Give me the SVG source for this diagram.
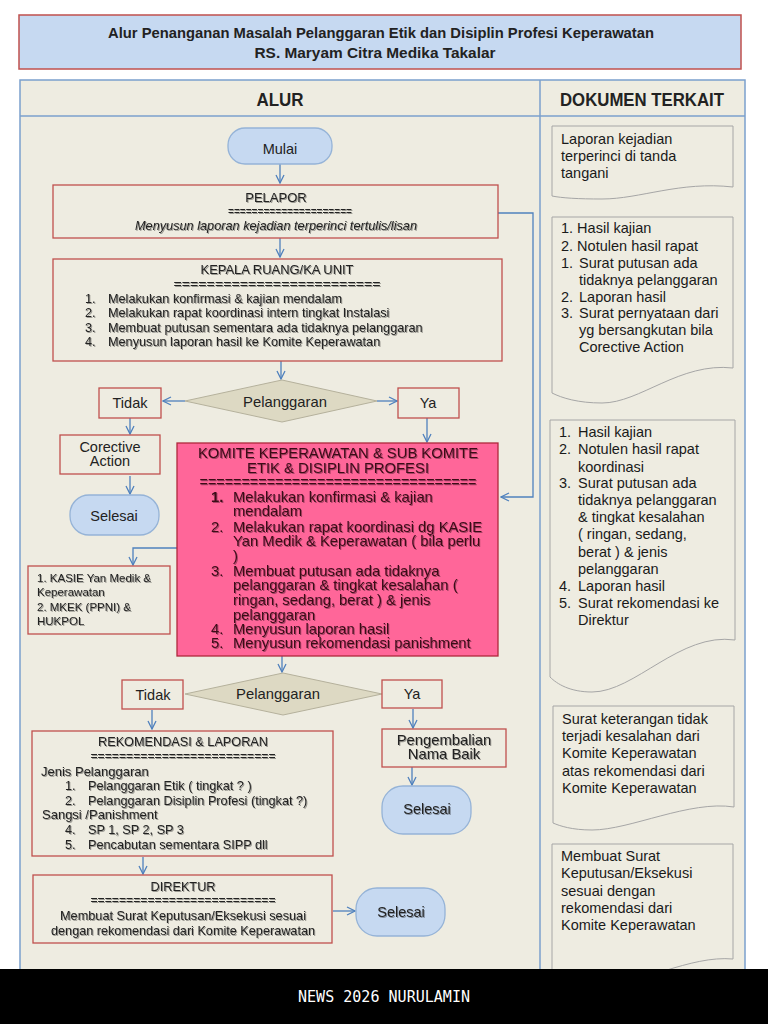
<svg xmlns="http://www.w3.org/2000/svg" width="768" height="1024" viewBox="0 0 768 1024">
<style>
text{font-family:"Liberation Sans",Arial,sans-serif;fill:#222}
.box{fill:#eeece1;stroke:#c0504d;stroke-width:1.3}
.term{fill:#c6d9f1;stroke:#95b3d7;stroke-width:1.3}
.dia{fill:#ddd9c3;stroke:#b5b19c;stroke-width:1}
.doc{fill:#eeece1;stroke:#a6a6a6;stroke-width:1}
.con{fill:none;stroke:#4f81bd;stroke-width:1.3}
.c{text-anchor:middle}
.f13{font-size:13px}
.f127{font-size:12.7px}
.f145{font-size:14.5px}
.f148{font-size:14.8px}
.d{font-size:14.5px;fill:#1a1a1a}
.sh{filter:url(#sh)}
.km{fill:#3a0a18}
</style>
<defs>
<marker id="arr" viewBox="0 0 10 10" refX="9" refY="5" markerWidth="10" markerHeight="10" markerUnits="userSpaceOnUse" orient="auto">
<path d="M1,1 L9,5 L1,9" fill="none" stroke="#4f81bd" stroke-width="1.3"/>
</marker>
<filter id="sh" x="-5%" y="-20%" width="110%" height="140%">
<feDropShadow dx="1" dy="1" stdDeviation="0.6" flood-color="#000" flood-opacity="0.35"/>
</filter>
</defs>
<rect width="768" height="1024" fill="#ffffff"/>

<g id="title">
<rect x="19" y="15" width="722" height="54" fill="#c6d9f1" stroke="#c0504d" stroke-width="1.5"/>
<text x="381" y="38" class="c" font-size="14.5" font-weight="bold" textLength="546" lengthAdjust="spacingAndGlyphs">Alur Penanganan Masalah Pelanggaran Etik dan Disiplin Profesi Keperawatan</text>
<text x="375" y="58" class="c" font-size="14.5" font-weight="bold" textLength="241" lengthAdjust="spacingAndGlyphs">RS. Maryam  Citra Medika Takalar</text>
</g>

<g id="table">
<rect x="20" y="80" width="725" height="900" fill="#eeece1" stroke="#7ba0cd" stroke-width="1.5"/>
<line x1="20" y1="116" x2="745" y2="116" stroke="#7ba0cd" stroke-width="1.5"/>
<line x1="540" y1="80" x2="540" y2="980" stroke="#7ba0cd" stroke-width="1.5"/>
<text x="280" y="106" class="c" font-size="18" font-weight="bold" textLength="47" lengthAdjust="spacingAndGlyphs">ALUR</text>
<text x="642" y="106" class="c" font-size="18" font-weight="bold" textLength="164" lengthAdjust="spacingAndGlyphs">DOKUMEN TERKAIT</text>
</g>

<g id="connectors">
<line class="con" x1="280" y1="164" x2="280" y2="183" marker-end="url(#arr)"/>
<line class="con" x1="280" y1="238" x2="280" y2="257" marker-end="url(#arr)"/>
<polyline class="con" points="498,213 533,213 533,497 501,497" marker-end="url(#arr)"/>
<line class="con" x1="281" y1="361" x2="281" y2="379" marker-end="url(#arr)"/>
<line class="con" x1="185" y1="401" x2="163" y2="401" marker-end="url(#arr)"/>
<line class="con" x1="377" y1="401" x2="397" y2="401" marker-end="url(#arr)"/>
<line class="con" x1="130" y1="418" x2="130" y2="434" marker-end="url(#arr)"/>
<line class="con" x1="130" y1="476" x2="130" y2="494" marker-end="url(#arr)"/>
<line class="con" x1="427" y1="418" x2="427" y2="442" marker-end="url(#arr)"/>
<polyline class="con" points="177,548 133,548 133,565" marker-end="url(#arr)"/>
<line class="con" x1="282" y1="656" x2="282" y2="672" marker-end="url(#arr)"/>
<line class="con" x1="152" y1="710" x2="152" y2="729" marker-end="url(#arr)"/>
<line class="con" x1="413" y1="709" x2="413" y2="728" marker-end="url(#arr)"/>
<line class="con" x1="412" y1="767" x2="412" y2="785" marker-end="url(#arr)"/>
<line class="con" x1="143" y1="857" x2="143" y2="874" marker-end="url(#arr)"/>
<line class="con" x1="333" y1="911" x2="355" y2="911" marker-end="url(#arr)"/>
</g>

<g id="mulai">
<rect class="term" x="228" y="128" width="104" height="36" rx="17"/>
<text x="280" y="154" class="c f145">Mulai</text>
</g>

<g id="pelapor">
<rect class="box" x="53" y="185" width="445" height="53"/>
<g class="sh">
<text x="276" y="202" class="c f13">PELAPOR</text>
<text x="290" y="215" class="c f13" textLength="124" lengthAdjust="spacingAndGlyphs">=====================</text>
<text x="276" y="230" class="c f13" font-style="italic" textLength="282" lengthAdjust="spacingAndGlyphs">Menyusun laporan kejadian terperinci tertulis/lisan</text>
</g>
</g>

<g id="kepala">
<rect class="box" x="53" y="259" width="449" height="102"/>
<g class="sh">
<text x="277" y="274" class="c f13" textLength="153" lengthAdjust="spacingAndGlyphs">KEPALA RUANG/KA  UNIT</text>
<text x="277" y="288" class="c f13" textLength="207" lengthAdjust="spacingAndGlyphs">=========================</text>
<text x="85" y="303" class="f127">1.</text><text x="108" y="303" class="f127">Melakukan konfirmasi &amp; kajian mendalam</text>
<text x="85" y="317" class="f127">2.</text><text x="108" y="317" class="f127">Melakukan rapat koordinasi intern tingkat Instalasi</text>
<text x="85" y="332" class="f127">3.</text><text x="108" y="332" class="f127">Membuat putusan sementara ada tidaknya pelanggaran</text>
<text x="85" y="346" class="f127">4.</text><text x="108" y="346" class="f127">Menyusun laporan hasil ke Komite Keperawatan</text>
</g>
</g>

<g id="diamond1">
<polygon class="dia" points="185,401 282,380 377,401 282,422"/>
<text x="285" y="407" class="c f148">Pelanggaran</text>
</g>

<g id="tidak1">
<rect class="box" x="99" y="388" width="62" height="30"/>
<text x="130" y="408" class="c f145">Tidak</text>
</g>

<g id="ya1">
<rect class="box" x="398" y="388" width="61" height="30"/>
<text x="428" y="408" class="c f145">Ya</text>
</g>

<g id="corective">
<rect class="box" x="60" y="435" width="100" height="39"/>
<text x="110" y="452" class="c f145">Corective</text>
<text x="110" y="466" class="c f145">Action</text>
</g>

<g id="selesai1">
<rect class="term" x="70" y="495" width="89" height="40" rx="19"/>
<text x="114" y="521" class="c f145">Selesai</text>
</g>

<g id="komite">
<rect x="177" y="443" width="321" height="213" fill="#ff6699" stroke="#b0283c" stroke-width="1.3"/>
<g class="sh">
<text x="338" y="458" class="c km" font-size="14.7" textLength="280" lengthAdjust="spacingAndGlyphs">KOMITE KEPERAWATAN &amp; SUB KOMITE</text>
<text x="338" y="473" class="c km" font-size="14.7" textLength="182" lengthAdjust="spacingAndGlyphs">ETIK &amp; DISIPLIN PROFESI</text>
<text x="338" y="487" class="c km" font-size="14.7" textLength="277" lengthAdjust="spacingAndGlyphs">=================================</text>
<text x="211" y="502" class="km f148" font-weight="bold">1.</text><text x="233" y="502" class="km f148">Melakukan konfirmasi &amp; kajian</text>
<text x="233" y="516" class="km f148">mendalam</text>
<text x="211" y="532" class="km f148">2.</text><text x="233" y="532" class="km f148">Melakukan rapat koordinasi dg KASIE</text>
<text x="233" y="546" class="km f148">Yan Medik &amp; Keperawatan ( bila perlu</text>
<text x="233" y="561" class="km f148">)</text>
<text x="211" y="576" class="km f148">3.</text><text x="233" y="576" class="km f148">Membuat putusan ada tidaknya</text>
<text x="233" y="590" class="km f148">pelanggaran &amp; tingkat kesalahan (</text>
<text x="233" y="605" class="km f148">ringan, sedang, berat ) &amp; jenis</text>
<text x="233" y="620" class="km f148">pelanggaran</text>
<text x="211" y="634" class="km f148">4.</text><text x="233" y="634" class="km f148">Menyusun laporan hasil</text>
<text x="211" y="648" class="km f148">5.</text><text x="233" y="648" class="km f148">Menyusun rekomendasi panishment</text>
</g>
</g>

<g id="kasie">
<rect class="box" x="28" y="566" width="142" height="68"/>
<g class="sh">
<text x="37" y="582" font-size="11.5">1. KASIE Yan Medik &amp;</text>
<text x="37" y="596" font-size="11.5">Keperawatan</text>
<text x="37" y="611" font-size="11.5">2. MKEK (PPNI) &amp;</text>
<text x="37" y="625" font-size="11.5">HUKPOL</text>
</g>
</g>

<g id="diamond2">
<polygon class="dia" points="185,694 283,673 382,694 283,715"/>
<text x="278" y="699" class="c f148">Pelanggaran</text>
</g>

<g id="tidak2">
<rect class="box" x="122" y="680" width="61" height="29"/>
<text x="153" y="700" class="c f145">Tidak</text>
</g>

<g id="ya2">
<rect class="box" x="382" y="680" width="60" height="28"/>
<text x="412" y="699" class="c f145">Ya</text>
</g>

<g id="rekomendasi">
<rect class="box" x="32" y="731" width="301" height="125"/>
<g class="sh">
<text x="183" y="746" class="c f13" textLength="170" lengthAdjust="spacingAndGlyphs">REKOMENDASI &amp; LAPORAN</text>
<text x="183" y="760" class="c f13" textLength="185" lengthAdjust="spacingAndGlyphs">==========================</text>
<text x="41" y="776" class="f13">Jenis Pelanggaran</text>
<text x="65" y="790" class="f127">1.</text><text x="88" y="790" class="f127">Pelanggaran Etik ( tingkat ? )</text>
<text x="65" y="805" class="f127">2.</text><text x="88" y="805" class="f127">Pelanggaran Disiplin Profesi (tingkat ?)</text>
<text x="42" y="819" class="f13">Sangsi /Panishment</text>
<text x="65" y="834" class="f127">4.</text><text x="88" y="834" class="f127">SP 1, SP 2, SP 3</text>
<text x="65" y="849" class="f127">5.</text><text x="88" y="849" class="f127">Pencabutan sementara SIPP dll</text>
</g>
</g>

<g id="direktur">
<rect class="box" x="33" y="875" width="299" height="68"/>
<g class="sh">
<text x="183" y="891" class="c f13" textLength="65" lengthAdjust="spacingAndGlyphs">DIREKTUR</text>
<text x="183" y="904" class="c f13" textLength="185" lengthAdjust="spacingAndGlyphs">==========================</text>
<text x="183" y="920" class="c f13" textLength="246" lengthAdjust="spacingAndGlyphs">Membuat Surat Keputusan/Eksekusi sesuai</text>
<text x="183" y="935" class="c f13" textLength="264" lengthAdjust="spacingAndGlyphs">dengan rekomendasi dari Komite Keperawatan</text>
</g>
</g>

<g id="selesai3">
<rect class="term" x="356" y="888" width="89" height="48" rx="21"/>
<text x="401" y="917" class="c f145 sh">Selesai</text>
</g>

<g id="pengembalian">
<rect class="box" x="382" y="729" width="124" height="38"/>
<g class="sh">
<text x="444" y="745" class="c f148">Pengembalian</text>
<text x="444" y="759" class="c f148">Nama Baik</text>
</g>
</g>

<g id="selesai2">
<rect class="term" x="382" y="786" width="89" height="48" rx="21"/>
<text x="427" y="814" class="c f145 sh">Selesai</text>
</g>

<g id="doc1">
<path class="doc" d="M552,126 H733 V187 C680,181 640,199 602,199 C578,199 562,198 552,196 Z"/>
<text x="561" y="144" class="d">Laporan kejadian</text>
<text x="561" y="161" class="d">terperinci di tanda</text>
<text x="561" y="178" class="d">tangani</text>
</g>

<g id="doc2">
<path class="doc" d="M552,217 H733 V368 C680,362 640,403 602,403 C578,403 562,398 552,393 Z"/>
<text x="561" y="233" class="d">1. Hasil kajian</text>
<text x="561" y="251" class="d">2. Notulen hasil rapat</text>
<text x="561" y="268" class="d">1.</text><text x="579" y="268" class="d">Surat putusan ada</text>
<text x="579" y="285" class="d">tidaknya pelanggaran</text>
<text x="561" y="302" class="d">2.</text><text x="579" y="302" class="d">Laporan hasil</text>
<text x="561" y="318" class="d">3.</text><text x="579" y="318" class="d">Surat pernyataan dari</text>
<text x="579" y="335" class="d">yg bersangkutan bila</text>
<text x="579" y="352" class="d">Corective Action</text>
</g>

<g id="doc3">
<path class="doc" d="M550,420 H735 V640 C680,632 635,692 592,692 C570,692 557,684 550,677 Z"/>
<text x="559" y="437" class="d">1.</text><text x="578" y="437" class="d">Hasil kajian</text>
<text x="559" y="454" class="d">2.</text><text x="578" y="454" class="d">Notulen hasil rapat</text>
<text x="578" y="472" class="d">koordinasi</text>
<text x="559" y="488" class="d">3.</text><text x="578" y="488" class="d">Surat putusan ada</text>
<text x="578" y="505" class="d">tidaknya pelanggaran</text>
<text x="578" y="522" class="d">&amp; tingkat kesalahan</text>
<text x="578" y="539" class="d">( ringan, sedang,</text>
<text x="578" y="557" class="d">berat ) &amp; jenis</text>
<text x="578" y="574" class="d">pelanggaran</text>
<text x="559" y="591" class="d">4.</text><text x="578" y="591" class="d">Laporan hasil</text>
<text x="559" y="608" class="d">5.</text><text x="578" y="608" class="d">Surat rekomendasi ke</text>
<text x="578" y="625" class="d">Direktur</text>
</g>

<g id="doc4">
<path class="doc" d="M553,706 H734 V807 C690,800 630,830 592,830 C572,830 560,826 553,823 Z"/>
<text x="562" y="724" class="d">Surat keterangan tidak</text>
<text x="562" y="741" class="d">terjadi kesalahan dari</text>
<text x="562" y="758" class="d">Komite Keperawatan</text>
<text x="562" y="776" class="d">atas rekomendasi dari</text>
<text x="562" y="793" class="d">Komite Keperawatan</text>
</g>

<g id="doc5">
<path class="doc" d="M552,844 H733 V959 C690,955 640,985 600,985 L552,985 Z"/>
<text x="561" y="861" class="d">Membuat Surat</text>
<text x="561" y="878" class="d">Keputusan/Eksekusi</text>
<text x="561" y="896" class="d">sesuai dengan</text>
<text x="561" y="913" class="d">rekomendasi dari</text>
<text x="561" y="930" class="d">Komite Keperawatan</text>
</g>

<g id="footer">
<rect x="0" y="969" width="768" height="55" fill="#000000"/>
<text x="384" y="1002" class="c" font-size="15" style="fill:#ffffff;font-family:'DejaVu Sans Mono','Liberation Mono',monospace" textLength="172" lengthAdjust="spacingAndGlyphs">NEWS 2026 NURULAMIN</text>
</g>
</svg>
